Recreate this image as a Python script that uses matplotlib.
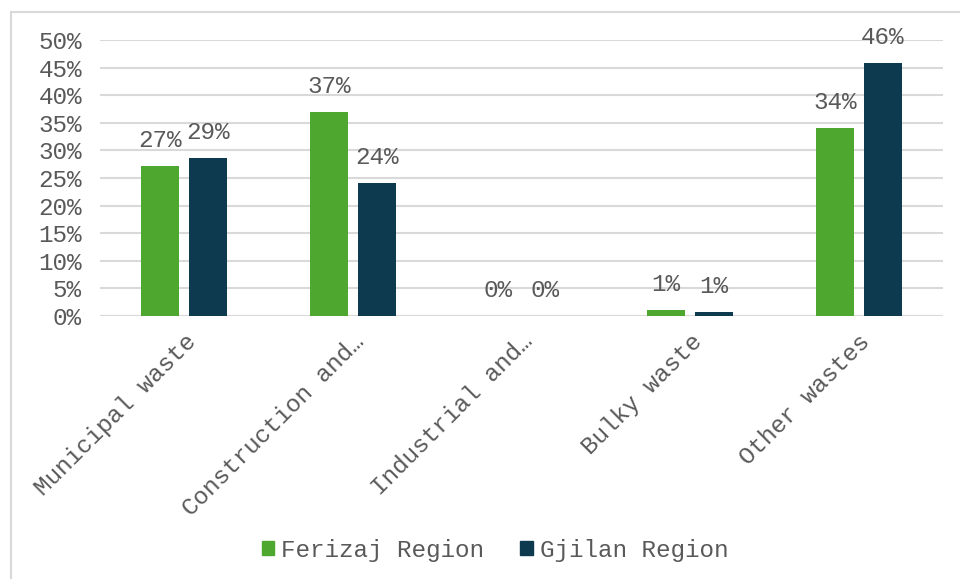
import matplotlib
matplotlib.use("Agg")
import matplotlib.pyplot as plt
import matplotlib.transforms as mtransforms
from matplotlib.lines import Line2D
from matplotlib.patches import Patch
import numpy as np

categories = ["Municipal waste", "Construction and…", "Industrial and…", "Bulky waste", "Other wastes"]
ferizaj = [27.2, 37.0, 0.0, 1.1, 34.1]
gjilan = [28.6, 24.1, 0.0, 0.8, 45.8]
ferizaj_labels = ["27%", "37%", "0%", "1%", "34%"]
gjilan_labels = ["29%", "24%", "0%", "1%", "46%"]
yticks = [0, 5, 10, 15, 20, 25, 30, 35, 40, 45, 50]

green = "#4ea72e"
navy = "#0e3a4f"
txt = "#595959"
grid = "#d9d9d9"
font = "Liberation Mono"
fs = 17.5

fig = plt.figure(figsize=(9.6, 5.79), dpi=100)
ax = fig.add_axes([100/960, 1-316/579, 843/960, (316-40)/579])

x = np.arange(len(categories))
w = 0.225
off = 0.142
b1 = ax.bar(x - off, ferizaj, w, color=green, zorder=3)
b2 = ax.bar(x + off, gjilan, w, color=navy, zorder=3)

for bars, labs in ((b1, ferizaj_labels), (b2, gjilan_labels)):
    for r, lab in zip(bars, labs):
        ax.annotate(lab, (r.get_x() + r.get_width()/2, r.get_height()),
                    xytext=(0, 13.5), textcoords="offset points",
                    ha="center", va="baseline", fontsize=fs, color=txt, family=font)

ax.set_xlim(-0.5, len(categories) - 0.5)
ax.set_ylim(0, 50)
ax.set_yticks(yticks)
ax.set_yticklabels([f"{v}%" for v in yticks], family=font, fontsize=fs, color=txt)
ax.set_xticks(x)
ax.set_xticklabels(categories, rotation=45, ha="right", rotation_mode="anchor",
                   family=font, fontsize=fs, color=txt)
shift = mtransforms.ScaledTranslation(-5/100, 2/100, fig.dpi_scale_trans)
for lab in ax.get_xticklabels():
    lab.set_transform(lab.get_transform() + shift)
ax.tick_params(axis="both", length=0)
ax.tick_params(axis="x", pad=10)
ax.tick_params(axis="y", pad=13)
ax.yaxis.grid(True, color=grid, linewidth=1.5, zorder=0)
for s in ax.spines.values():
    s.set_visible(False)
ax.axhline(0, color=grid, linewidth=1.5, zorder=2)

handles = [Patch(color=green, label="Ferizaj Region"), Patch(color=navy, label="Gjilan Region")]
fig.legend(handles=handles, loc="center", bbox_to_anchor=(495/960, 1-550/579), ncol=2,
           frameon=False, prop={"family": font, "size": fs}, labelcolor=txt,
           handlelength=0.5, handleheight=0.5, handletextpad=0.3, columnspacing=1.5)

fig.add_artist(Line2D([10.5/960, 1], [1-12/579, 1-12/579], transform=fig.transFigure, color=grid, linewidth=1.5))
fig.add_artist(Line2D([10.5/960, 10.5/960], [0, 1-12/579], transform=fig.transFigure, color=grid, linewidth=1.5))

fig.savefig("out.png", dpi=100)
